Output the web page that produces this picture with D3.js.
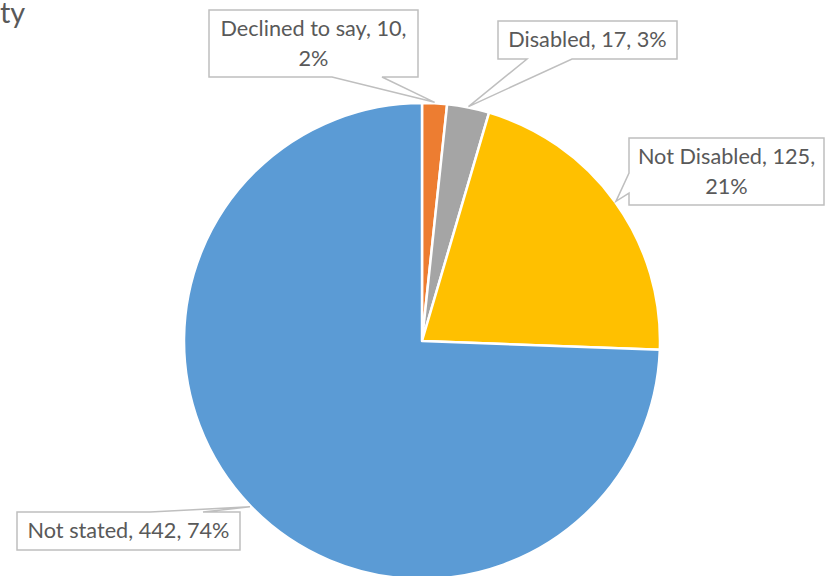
<!DOCTYPE html>
<html>
<head>
<meta charset="utf-8">
<script src="https://cdn.jsdelivr.net/npm/d3@7/dist/d3.min.js"></script>
<style>
  html, body { margin: 0; padding: 0; background: #fff; overflow: hidden; }
  svg { display: block; }
</style>
</head>
<body>
<svg id="chart" width="831" height="576"></svg>
<script>
// ---- data ----
const titleVisible = "ty"; // only the tail of the title is visible in the frame
const categories = ["Declined to say", "Disabled", "Not Disabled", "Not stated"];
const values = [10, 17, 125, 442];
const colors = ["#ED7D31", "#A5A5A5", "#FFC000", "#5B9BD5"];

// ---- layout (callout box placement) ----
const calloutBoxes = [
  { x: 209, y: 10,  w: 209, h: 67, side: "bottom", b0: 332, b1: 382 },
  { x: 498, y: 21,  w: 179, h: 38, side: "bottom", b0: 527, b1: 572 },
  { x: 629, y: 138, w: 195, h: 67, side: "left",   b0: 193, b1: 173 },
  { x: 17,  y: 512, w: 223, h: 38, side: "top",    b0: 150, b1: 203 }
];

const W = 831, H = 576;
const cx = 422, cy = 341, R = 238;
const FONT = "Lato, 'Noto Sans', sans-serif";
const textColor = "#595959";

const svg = d3.select("#chart");

// fit font size to mimic Calibri widths
const probe = svg.append("text").attr("font-family", FONT).attr("font-size", 24).text("Not stated, 442, 74%");
const measured = probe.node().getComputedTextLength();
probe.remove();
const scale = 202 / measured;
const fs = 24 * scale;

// title (cut off at left edge in the reference)
svg.append("text")
  .attr("x", 0).attr("y", 23)
  .attr("font-family", FONT)
  .attr("font-size", 32 * scale)
  .attr("fill", textColor)
  .text(titleVisible);

const total = d3.sum(values);
const fmtPct = d3.format(".0%");
const data = categories.map((c, i) => ({ cat: c, value: values[i], color: colors[i], box: calloutBoxes[i] }));

const pie = d3.pie().sort(null).value(d => d.value).startAngle(0).endAngle(2 * Math.PI);
const arcs = pie(data);
const arc = d3.arc().innerRadius(0).outerRadius(R);
const edgeArc = d3.arc().innerRadius(R + 1).outerRadius(R + 1);

const g = svg.append("g").attr("transform", `translate(${cx},${cy})`);
g.selectAll("path.slice")
  .data(arcs)
  .join("path")
  .attr("class", "slice")
  .attr("d", arc)
  .attr("fill", d => d.data.color)
  .attr("stroke", "#fff")
  .attr("stroke-width", 2.5)
  .attr("stroke-linejoin", "round");

// callouts
arcs.forEach(a => {
  const b = a.data.box;
  const c = edgeArc.centroid(a);
  const tx = cx + c[0], ty = cy + c[1];
  let p;
  if (b.side === "bottom") {
    p = `M${b.x},${b.y}H${b.x + b.w}V${b.y + b.h}H${b.b1}L${tx},${ty}L${b.b0},${b.y + b.h}H${b.x}Z`;
  } else if (b.side === "left") {
    p = `M${b.x},${b.y}H${b.x + b.w}V${b.y + b.h}H${b.x}V${b.b0}L${tx},${ty}L${b.x},${b.b1}Z`;
  } else {
    p = `M${b.x},${b.y}H${b.b0}L${tx},${ty}L${b.b1},${b.y}H${b.x + b.w}V${b.y + b.h}H${b.x}Z`;
  }
  svg.append("path")
    .attr("d", p)
    .attr("fill", "#fff")
    .attr("stroke", "#bfbfbf")
    .attr("stroke-width", 1.5);

  const label = `${a.data.cat}, ${a.data.value}, ${fmtPct(a.data.value / total)}`;
  // greedy wrap
  const words = label.split(" ");
  const maxW = b.w - 8;
  const t = svg.append("text")
    .attr("font-family", FONT)
    .attr("font-size", fs)
    .attr("fill", textColor)
    .attr("text-anchor", "middle");
  const lines = [];
  let cur = "";
  const tmp = t.append("tspan");
  words.forEach(w => {
    const test = cur ? cur + " " + w : w;
    tmp.text(test);
    if (tmp.node().getComputedTextLength() > maxW && cur) {
      lines.push(cur);
      cur = w;
    } else {
      cur = test;
    }
  });
  lines.push(cur);
  tmp.remove();
  const lh = 30;
  const midY = b.y + b.h / 2;
  const firstBase = midY - (lines.length - 1) * lh / 2 + fs * 0.34;
  lines.forEach((ln, i) => {
    t.append("tspan")
      .attr("x", b.x + b.w / 2)
      .attr("y", firstBase + i * lh)
      .text(ln);
  });
});
</script>
</body>
</html>
